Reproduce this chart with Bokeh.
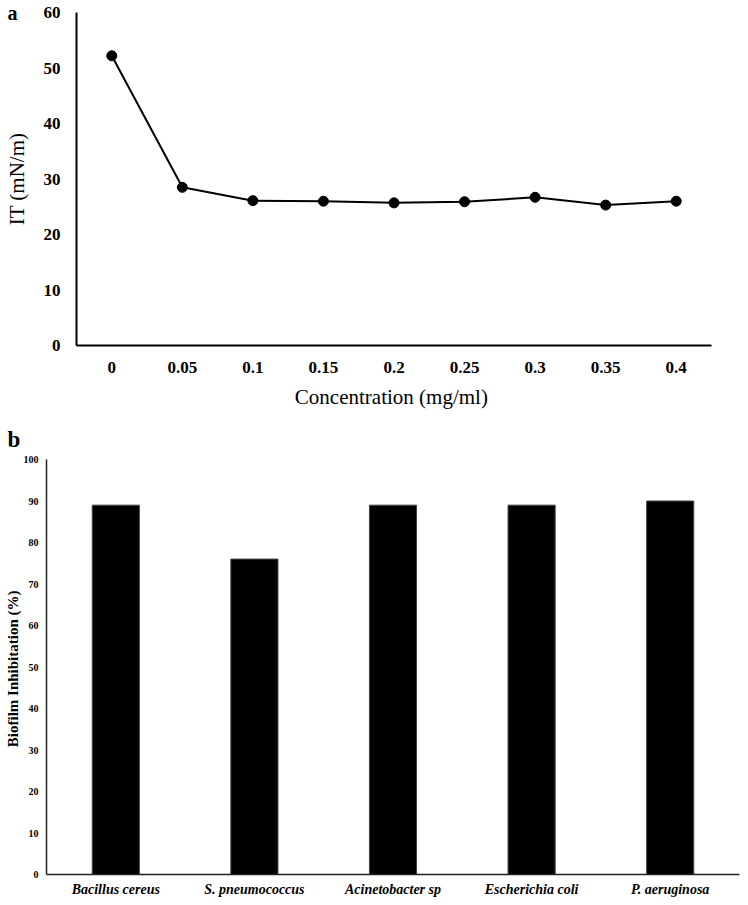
from bokeh.plotting import figure
from bokeh.layouts import column
from bokeh.models import FactorRange, Range1d, FixedTicker, Title
from bokeh.embed import file_html
from bokeh.resources import INLINE

# ---- data panel a ----
conc = ["0", "0.05", "0.1", "0.15", "0.2", "0.25", "0.3", "0.35", "0.4"]
it_vals = [52.2, 28.5, 26.1, 26.0, 25.7, 25.9, 26.7, 25.3, 26.0]
y_ticks_a = [0, 10, 20, 30, 40, 50, 60]

# ---- data panel b ----
species = ["Bacillus cereus", "S. pneumococcus", "Acinetobacter sp",
           "Escherichia coli", "P. aeruginosa"]
inhibition = [89, 76, 89, 89, 90]
y_ticks_b = [0, 10, 20, 30, 40, 50, 60, 70, 80, 90, 100]

SERIF = "Liberation Serif"

# ---------------- panel a ----------------
pa = figure(width=748, height=415, x_range=FactorRange(*conc, range_padding=0),
            y_range=Range1d(0, 60), output_backend="svg", toolbar_location=None,
            min_border_left=76, min_border_right=37, min_border_top=12,
            min_border_bottom=70, frame_align=False)
pa.outline_line_color = None
pa.grid.visible = False
pa.line(conc, it_vals, line_color="black", line_width=2)
pa.scatter(conc, it_vals, size=10, color="black")

pa.yaxis.ticker = FixedTicker(ticks=y_ticks_a)
for ax in (pa.xaxis[0], pa.yaxis[0]):
    ax.axis_line_color = "black"
    ax.axis_line_width = 2
    ax.major_tick_line_color = None
    ax.minor_tick_line_color = None
    ax.major_tick_out = 0
    ax.major_tick_in = 0
    ax.minor_tick_out = 0
    ax.minor_tick_in = 0
    ax.major_label_text_font = SERIF
    ax.major_label_text_font_style = "bold"
    ax.major_label_text_font_size = "17px"
    ax.major_label_text_color = "black"
    ax.axis_label_text_font = SERIF
    ax.axis_label_text_font_style = "normal"
    ax.axis_label_text_font_size = "21px"
    ax.axis_label_text_color = "black"
pa.yaxis.axis_label = "IT (mN/m)"
pa.yaxis.major_label_standoff = 16
pa.yaxis.axis_label_standoff = 12
pa.xaxis.axis_label = "Concentration  (mg/ml)"
pa.xaxis.major_label_standoff = 16
pa.xaxis.axis_label_standoff = 9

pa.add_layout(Title(text="a", align="left", offset=-69, standoff=-22,
                    text_font=SERIF, text_font_style="bold", text_font_size="20px",
                    text_color="black"), "above")

# ---------------- panel b ----------------
pb = figure(width=748, height=490, x_range=FactorRange(*species, range_padding=0),
            y_range=Range1d(0, 100), output_backend="svg", toolbar_location=None,
            min_border_left=46, min_border_right=9, min_border_top=44,
            min_border_bottom=31, frame_align=False)
pb.outline_line_color = None
pb.grid.visible = False
pb.vbar(x=species, top=inhibition, width=0.34, fill_color="black",
        line_color="#444444", line_width=1)

pb.yaxis.ticker = FixedTicker(ticks=y_ticks_b)
for ax in (pb.xaxis[0], pb.yaxis[0]):
    ax.axis_line_color = "#222222"
    ax.axis_line_width = 1.5
    ax.major_tick_line_color = None
    ax.minor_tick_line_color = None
    ax.major_tick_out = 0
    ax.major_tick_in = 0
    ax.minor_tick_out = 0
    ax.minor_tick_in = 0
    ax.major_label_text_font = SERIF
    ax.major_label_text_color = "black"
    ax.axis_label_text_font = SERIF
    ax.axis_label_text_font_style = "bold"
    ax.axis_label_text_color = "black"
pb.yaxis.major_label_text_font_style = "bold"
pb.yaxis.major_label_text_font_size = "10px"
pb.yaxis.major_label_standoff = 8
pb.yaxis.axis_label = "Biofilm Inhibitation  (%)"
pb.yaxis.axis_label_text_font_size = "15px"
pb.yaxis.axis_label_standoff = 0
pb.xaxis.major_label_text_font_style = "bold italic"
pb.xaxis.major_label_text_font_size = "14px"
pb.xaxis.major_label_standoff = 7

pb.add_layout(Title(text="b", align="left", offset=-39, standoff=16,
                    text_font=SERIF, text_font_style="bold", text_font_size="23px",
                    text_color="black"), "above")

layout = column(pa, pb, spacing=0)
open("out.html", "w").write(file_html(layout, INLINE))
